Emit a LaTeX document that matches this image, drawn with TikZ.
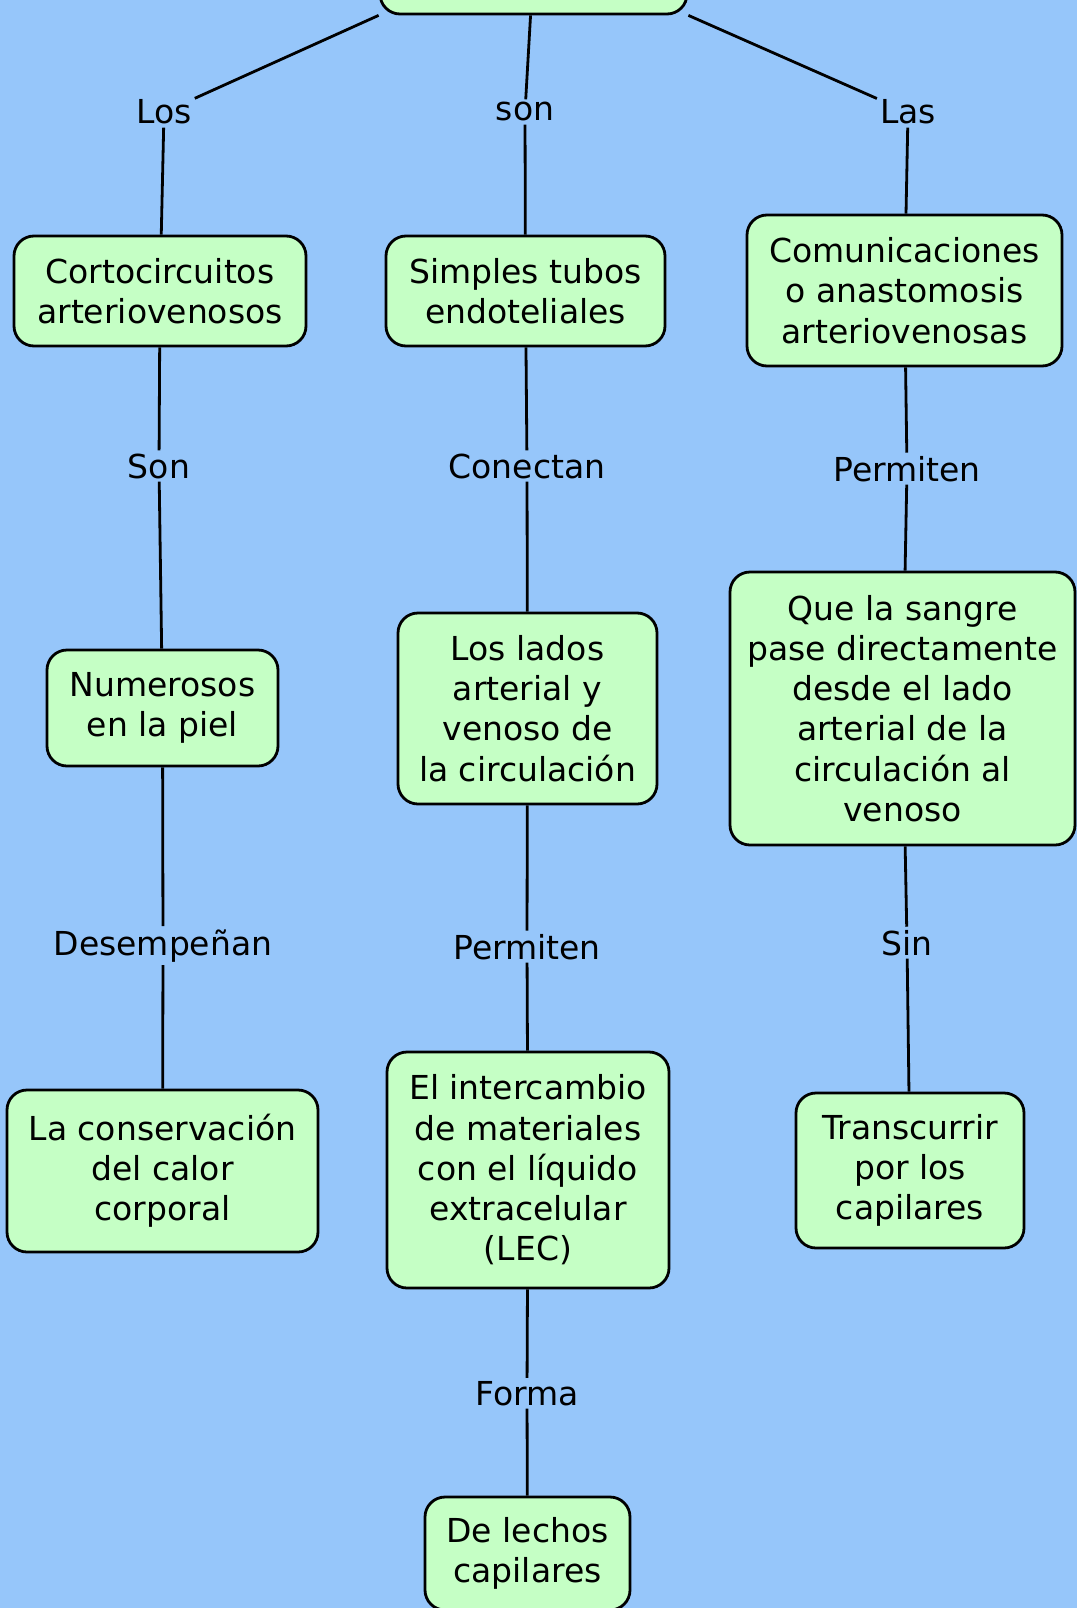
\documentclass[tikz,border=0pt]{standalone}
\usepackage{fontspec}
\setmainfont{DejaVu Sans}
\usetikzlibrary{backgrounds}
\definecolor{bgblue}{RGB}{150,198,250}
\definecolor{boxgreen}{RGB}{197,255,197}
\begin{document}
\begin{tikzpicture}[x=1pt,y=-1pt,
  concept/.style={draw=black, line width=2.8pt, fill=boxgreen, rounded corners=20pt, align=center, inner sep=0pt, font=\fontsize{33}{40.2}\selectfont},
  linkword/.style={anchor=base, inner sep=3pt, font=\fontsize{33}{40.2}\selectfont},
  conn/.style={line width=2.8pt, draw=black}]
\useasboundingbox (0,0) rectangle (1077,1608);
\begin{pgfonlayer}{background}
\fill[bgblue] (0,0) rectangle (1077,1608);
\end{pgfonlayer}

\node[concept, minimum width=307, minimum height=100] (top) at (533.5,-36) {};
\node[concept, minimum width=292, minimum height=110] (corto) at (160,291) {Cortocircuitos\\arteriovenosos};
\node[concept, minimum width=279, minimum height=110] (simples) at (525.5,291) {Simples tubos\\endoteliales};
\node[concept, minimum width=315, minimum height=151] (comun) at (904.5,290.5) {Comunicaciones\\o anastomosis\\arteriovenosas};
\node[concept, minimum width=231, minimum height=116] (numer) at (162.5,708) {Numerosos\\en la piel};
\node[concept, minimum width=259, minimum height=191] (lados) at (527.5,708.5) {Los lados\\arterial y\\venoso de\\la circulación};
\node[concept, minimum width=345, minimum height=273] (sangre) at (902.5,708.5) {Que la sangre\\pase directamente\\desde el lado\\arterial de la\\circulación al\\venoso};
\node[concept, minimum width=311, minimum height=162] (calor) at (162.5,1171) {La conservación\\del calor\\corporal};
\node[concept, minimum width=282, minimum height=236] (interc) at (528,1170) {El intercambio\\de materiales\\con el líquido\\extracelular\\(LEC)};
\node[concept, minimum width=228, minimum height=155] (transc) at (910,1170.5) {Transcurrir\\por los\\capilares};
\node[concept, minimum width=205, minimum height=113] (lechos) at (527.5,1553.5) {De lechos\\capilares};

\node[linkword] (los) at (164,124) {Los};
\node[linkword] (son1) at (525,121) {son};
\node[linkword] (las) at (908,124) {Las};
\node[linkword] (son2) at (159,478) {Son};
\node[linkword] (conectan) at (527,478) {Conectan};
\node[linkword] (perm1) at (907,481) {Permiten};
\node[linkword] (desemp) at (163,955) {Desempeñan};
\node[linkword] (perm2) at (527,959) {Permiten};
\node[linkword] (sin) at (907,955) {Sin};
\node[linkword] (forma) at (527,1405) {Forma};

\begin{pgfonlayer}{background}
\draw[conn] (top.south west) -- (los) -- (corto);
\draw[conn] (top) -- (son1) -- (simples);
\draw[conn] (top.south east) -- (las) -- (comun);
\draw[conn] (corto) -- (son2) -- (numer);
\draw[conn] (numer) -- (desemp) -- (calor);
\draw[conn] (simples) -- (conectan) -- (lados);
\draw[conn] (lados) -- (perm2) -- (interc);
\draw[conn] (interc) -- (forma) -- (lechos);
\draw[conn] (comun) -- (perm1) -- (sangre);
\draw[conn] (sangre) -- (sin) -- (transc);
\end{pgfonlayer}
\end{tikzpicture}
\end{document}
